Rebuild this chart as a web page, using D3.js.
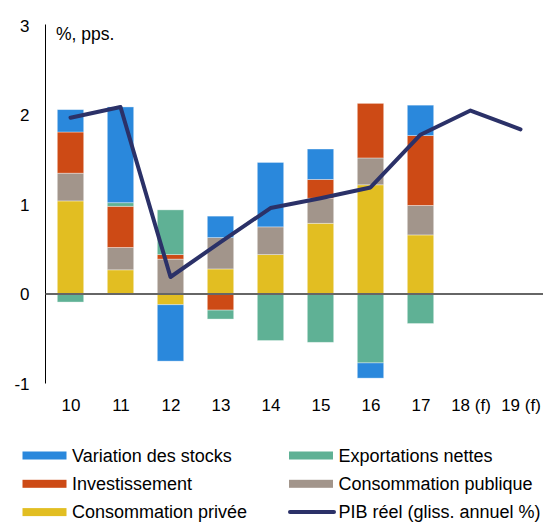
<!DOCTYPE html>
<html>
<head>
<meta charset="utf-8">
<script src="https://d3js.org/d3.v7.min.js"></script>
<style>
  body { margin: 0; background: #fff; }
  svg { display: block; font-family: "Liberation Sans", Arial, sans-serif; }
</style>
</head>
<body>
<svg></svg>
<script>
// categories (years)
const years = ["10", "11", "12", "13", "14", "15", "16", "17", "18 (f)", "19 (f)"]

// contributions, pps. (no bars for forecast years)
const consoPrivee   = [1.04, 0.27, -0.12, 0.28, 0.44, 0.79, 1.22, 0.66, null, null]
const consoPublique = [0.31, 0.25, 0.39, 0.35, 0.31, 0.28, 0.30, 0.33, null, null]
const investissement = [0.46, 0.46, 0.05, -0.18, 0.00, 0.21, 0.61, 0.78, null, null]
const exportations  = [-0.09, 0.04, 0.50, -0.10, -0.52, -0.54, -0.77, -0.33, null, null]
const stocks        = [0.25, 1.07, -0.63, 0.24, 0.72, 0.34, -0.17, 0.34, null, null]

// real GDP, yoy %
const pib = [1.97, 2.09, 0.19, 0.58, 0.96, 1.07, 1.19, 1.78, 2.05, 1.84]

const yTicks = [-1, 0, 1, 2, 3]

const width = 543, height = 522

const svg = d3.select("svg")
  .attr("width", width)
  .attr("height", height)

const keys = ["privee", "publique", "invest", "export", "stocks"]
const colors = {
  stocks: "#2A88DC",
  export: "#5FB195",
  invest: "#CD4A15",
  publique: "#A2958B",
  privee: "#E2BE22"
}

const table = years.map((y, i) => ({
  year: y,
  privee: consoPrivee[i] || 0,
  publique: consoPublique[i] || 0,
  invest: investissement[i] || 0,
  export: exportations[i] || 0,
  stocks: stocks[i] || 0
}))

const x = d3.scaleBand()
  .domain(years)
  .range([45.5, 545.5])
  .paddingInner(0.472)
  .paddingOuter(0.236)

const y = d3.scaleLinear()
  .domain([-1, 3])
  .range([383.5, 25.5])

const series = d3.stack()
  .keys(keys)
  .offset(d3.stackOffsetDiverging)(table)

// bars
svg.append("g")
  .selectAll("g")
  .data(series)
  .join("g")
  .attr("fill", d => colors[d.key])
  .selectAll("rect")
  .data(d => d.filter(p => p[1] - p[0] !== 0))
  .join("rect")
  .attr("x", d => x(d.data.year))
  .attr("width", x.bandwidth())
  .attr("y", d => y(d[1]))
  .attr("height", d => y(d[0]) - y(d[1]))
  .attr("stroke", "rgba(255,255,255,0.45)")
  .attr("stroke-width", 0.8)

// y axis line
svg.append("line")
  .attr("x1", 45.5).attr("x2", 45.5)
  .attr("y1", y(3) - 1).attr("y2", y(-1))
  .attr("stroke", "#000")
  .attr("stroke-width", 1)

// zero line
svg.append("line")
  .attr("x1", 45.5).attr("x2", width)
  .attr("y1", y(0)).attr("y2", y(0))
  .attr("stroke", "#666")
  .attr("stroke-width", 2)

// y tick labels
svg.append("g")
  .selectAll("text")
  .data(yTicks)
  .join("text")
  .attr("x", 29.5)
  .attr("y", d => y(d) + 6)
  .attr("text-anchor", "end")
  .attr("font-size", 17)
  .attr("fill", "#000")
  .text(d => d)

// x labels
svg.append("g")
  .selectAll("text")
  .data(years)
  .join("text")
  .attr("x", d => x(d) + x.bandwidth() / 2 + 0.5)
  .attr("y", 411)
  .attr("text-anchor", "middle")
  .attr("font-size", 17)
  .attr("fill", "#000")
  .text(d => d)

// unit label
svg.append("text")
  .attr("x", 56)
  .attr("y", 39.5)
  .attr("font-size", 17.5)
  .attr("fill", "#000")
  .text("%, pps.")

// GDP line
const line = d3.line()
  .x((d, i) => x(years[i]) + x.bandwidth() / 2)
  .y(d => y(d))

svg.append("path")
  .datum(pib)
  .attr("d", line)
  .attr("fill", "none")
  .attr("stroke", "#2B3168")
  .attr("stroke-width", 4)
  .attr("stroke-linejoin", "round")
  .attr("stroke-linecap", "round")

// legend
const legendItems = [
  { label: "Variation des stocks", color: colors.stocks, col: 0, row: 0 },
  { label: "Exportations nettes", color: colors.export, col: 1, row: 0 },
  { label: "Investissement", color: colors.invest, col: 0, row: 1 },
  { label: "Consommation publique", color: colors.publique, col: 1, row: 1 },
  { label: "Consommation privée", color: colors.privee, col: 0, row: 2 },
  { label: "PIB réel (gliss. annuel %)", color: "#2B3168", col: 1, row: 2, line: true }
]

const legend = svg.append("g")
  .selectAll("g")
  .data(legendItems)
  .join("g")
  .attr("transform", d => "translate(" + (d.col ? 289 : 22.5) + "," + (455.5 + d.row * 28.3) + ")")

legend.filter(d => !d.line)
  .append("rect")
  .attr("x", 0).attr("y", -4)
  .attr("width", 44).attr("height", 8)
  .attr("fill", d => d.color)

legend.filter(d => d.line)
  .append("line")
  .attr("x1", 1).attr("x2", 45)
  .attr("y1", 0).attr("y2", 0)
  .attr("stroke", d => d.color)
  .attr("stroke-width", 4)
  .attr("stroke-linecap", "round")

legend.append("text")
  .attr("x", 49.5)
  .attr("y", 6)
  .attr("font-size", 18)
  .attr("fill", "#000")
  .text(d => d.label)
</script>
</body>
</html>
